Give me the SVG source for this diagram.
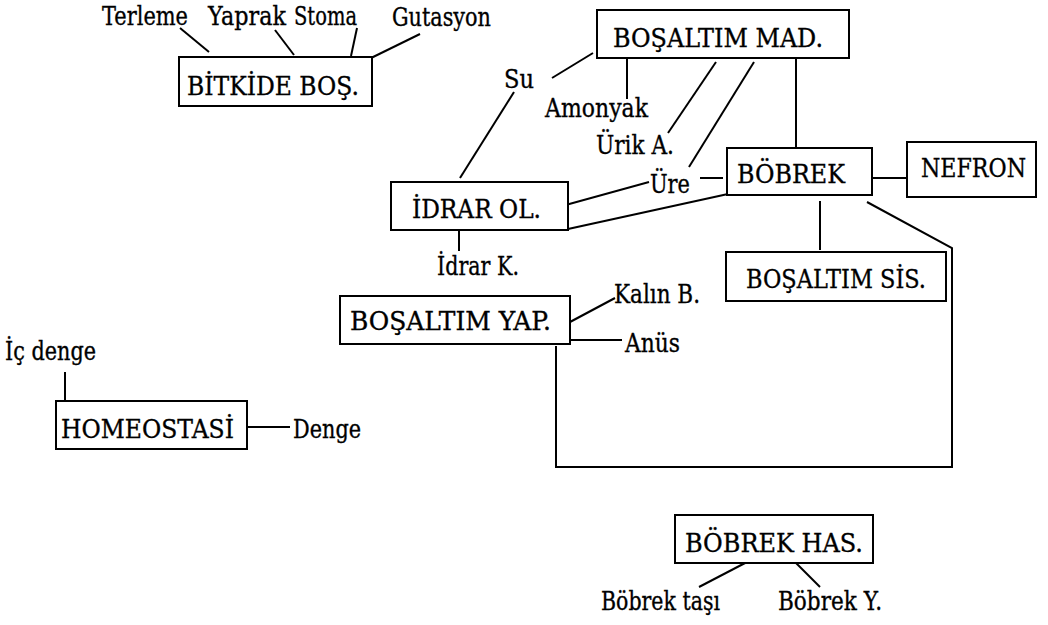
<svg xmlns="http://www.w3.org/2000/svg" width="1048" height="625" viewBox="0 0 1048 625">
  <style>
    text { font-family: "DejaVu Serif", serif; font-size: 22px; fill: #000; stroke: #000; stroke-width: 0.3; }
    .box { fill: #fff; stroke: #000; stroke-width: 2; }
    .ln { fill: none; stroke: #000; stroke-width: 2; }
  </style>
  <rect width="1048" height="625" fill="#fff"/>

  <!-- connectors -->
  <g id="connectors" class="ln">
    <!-- plant excretion -->
    <line x1="180" y1="28" x2="209" y2="52"/>
    <line x1="275" y1="30" x2="294" y2="55"/>
    <line x1="357" y1="28" x2="351" y2="56"/>
    <line x1="420" y1="34" x2="367" y2="60"/>
    <!-- excretory substances -->
    <line x1="552" y1="78" x2="593" y2="53"/>
    <line x1="627" y1="58" x2="627" y2="99"/>
    <line x1="716" y1="62" x2="668" y2="133"/>
    <line x1="754" y1="62" x2="689" y2="167"/>
    <line x1="796" y1="50" x2="796" y2="148"/>
    <line x1="514" y1="92" x2="460" y2="178"/>
    <!-- urine formation -->
    <line x1="562" y1="206" x2="649" y2="182"/>
    <line x1="700" y1="178" x2="723" y2="178"/>
    <line x1="568" y1="229" x2="728" y2="194"/>
    <line x1="459" y1="226" x2="459" y2="251"/>
    <!-- kidney -->
    <line x1="867" y1="178" x2="915" y2="178"/>
    <line x1="820" y1="201" x2="820" y2="250"/>
    <polyline points="867,202 952,248 952,467 556,467 556,346"/>
    <!-- excretory structures -->
    <line x1="570" y1="322" x2="615" y2="298"/>
    <line x1="570" y1="340" x2="622" y2="340"/>
    <!-- homeostasis -->
    <line x1="65" y1="372" x2="65" y2="401"/>
    <line x1="247" y1="427" x2="290" y2="427"/>
    <!-- kidney diseases -->
    <line x1="747" y1="562" x2="699" y2="587"/>
    <line x1="795" y1="562" x2="820" y2="587"/>
  </g>

  <!-- each label is fitted to its measured width and drawn a little tall -->
  <g id="bitkide-bos">
    <rect class="box" x="179" y="57" width="193" height="49"/>
    <text transform="translate(187 95) scale(1 1.18)" textLength="172" lengthAdjust="spacingAndGlyphs">BİTKİDE BOŞ.</text>
  </g>
  <g id="terleme"><text transform="translate(102 25) scale(1 1.18)" textLength="86" lengthAdjust="spacingAndGlyphs">Terleme</text></g>
  <g id="yaprak"><text transform="translate(208 25) scale(1 1.18)" textLength="78" lengthAdjust="spacingAndGlyphs">Yaprak</text></g>
  <g id="stoma"><text transform="translate(294 25) scale(1 1.18)" textLength="63" lengthAdjust="spacingAndGlyphs">Stoma</text></g>
  <g id="gutasyon"><text transform="translate(392 26) scale(1 1.18)" textLength="99" lengthAdjust="spacingAndGlyphs">Gutasyon</text></g>

  <g id="bosaltim-mad">
    <rect class="box" x="597" y="10" width="252" height="48"/>
    <text transform="translate(613 47) scale(1 1.18)" textLength="210" lengthAdjust="spacingAndGlyphs">BOŞALTIM MAD.</text>
  </g>
  <g id="su"><text transform="translate(504 88) scale(1 1.18)" textLength="30" lengthAdjust="spacingAndGlyphs">Su</text></g>
  <g id="amonyak"><text transform="translate(545 117) scale(1 1.18)" textLength="103" lengthAdjust="spacingAndGlyphs">Amonyak</text></g>
  <g id="urik-a"><text transform="translate(596 154) scale(1 1.18)" textLength="78" lengthAdjust="spacingAndGlyphs">Ürik A.</text></g>
  <g id="ure"><text transform="translate(650 193) scale(1 1.18)" textLength="40" lengthAdjust="spacingAndGlyphs">Üre</text></g>

  <g id="bobrek">
    <rect class="box" x="727" y="148" width="145" height="47"/>
    <text transform="translate(737 183) scale(1 1.18)" textLength="108" lengthAdjust="spacingAndGlyphs">BÖBREK</text>
  </g>
  <g id="nefron">
    <rect class="box" x="907" y="142" width="129" height="55"/>
    <text transform="translate(921 177) scale(1 1.18)" textLength="105" lengthAdjust="spacingAndGlyphs">NEFRON</text>
  </g>
  <g id="idrar-ol">
    <rect class="box" x="391" y="182" width="177" height="48"/>
    <text transform="translate(412 218) scale(1 1.18)" textLength="129" lengthAdjust="spacingAndGlyphs">İDRAR OL.</text>
  </g>
  <g id="idrar-k"><text transform="translate(437 275) scale(1 1.18)" textLength="82" lengthAdjust="spacingAndGlyphs">İdrar K.</text></g>

  <g id="bosaltim-sis">
    <rect class="box" x="726" y="252" width="220" height="49"/>
    <text transform="translate(746 288) scale(1 1.18)" textLength="180" lengthAdjust="spacingAndGlyphs">BOŞALTIM SİS.</text>
  </g>

  <g id="bosaltim-yap">
    <rect class="box" x="340" y="296" width="230" height="48"/>
    <text transform="translate(350 330) scale(1 1.18)" textLength="201" lengthAdjust="spacingAndGlyphs">BOŞALTIM YAP.</text>
  </g>
  <g id="kalin-b"><text transform="translate(614 303) scale(1 1.18)" textLength="86" lengthAdjust="spacingAndGlyphs">Kalın B.</text></g>
  <g id="anus"><text transform="translate(625 352) scale(1 1.18)" textLength="55" lengthAdjust="spacingAndGlyphs">Anüs</text></g>

  <g id="homeostasi">
    <rect class="box" x="56" y="401" width="191" height="48"/>
    <text transform="translate(61 438) scale(1 1.18)" textLength="173" lengthAdjust="spacingAndGlyphs">HOMEOSTASİ</text>
  </g>
  <g id="ic-denge"><text transform="translate(5 360) scale(1 1.18)" textLength="91" lengthAdjust="spacingAndGlyphs">İç denge</text></g>
  <g id="denge"><text transform="translate(293 438) scale(1 1.18)" textLength="68" lengthAdjust="spacingAndGlyphs">Denge</text></g>

  <g id="bobrek-has">
    <rect class="box" x="675" y="515" width="198" height="48"/>
    <text transform="translate(685 552) scale(1 1.18)" textLength="178" lengthAdjust="spacingAndGlyphs">BÖBREK HAS.</text>
  </g>
  <g id="bobrek-tasi"><text transform="translate(601 610) scale(1 1.18)" textLength="119" lengthAdjust="spacingAndGlyphs">Böbrek taşı</text></g>
  <g id="bobrek-y"><text transform="translate(778 610) scale(1 1.18)" textLength="104" lengthAdjust="spacingAndGlyphs">Böbrek Y.</text></g>
</svg>
